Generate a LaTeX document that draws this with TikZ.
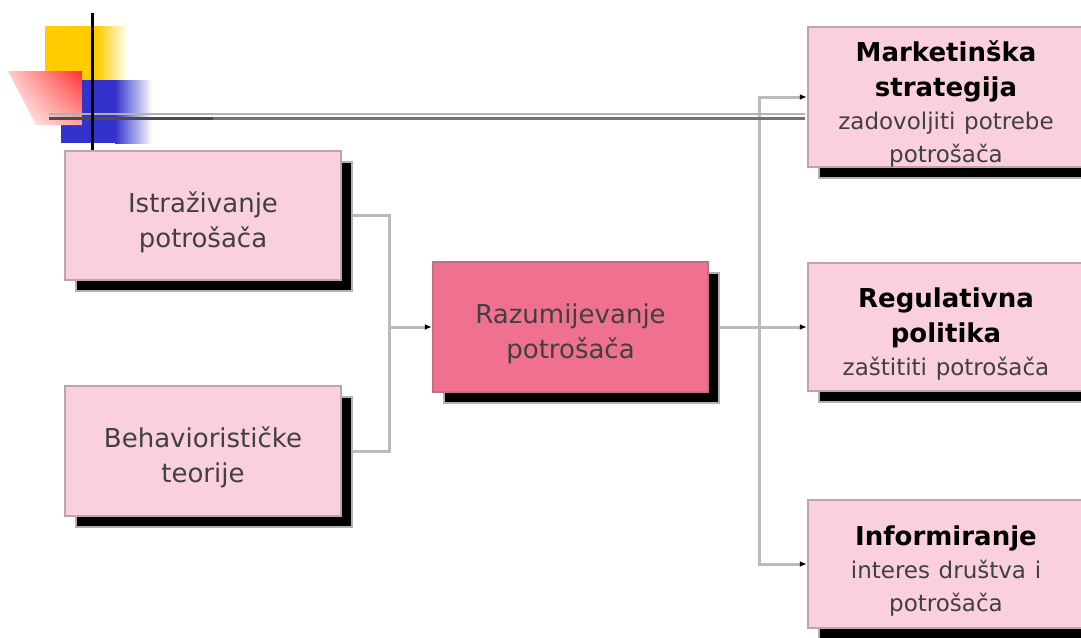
\documentclass[tikz,border=0pt]{standalone}
\usepackage{fontspec}
\setmainfont{DejaVu Sans}
\usetikzlibrary{arrows.meta,shadows,backgrounds,shadings}
\definecolor{lightpink}{HTML}{FAD0DC}
\definecolor{boxborder}{HTML}{C0A4AC}
\definecolor{centerfill}{HTML}{F07090}
\definecolor{centerborder}{HTML}{C07080}
\definecolor{conngray}{HTML}{BBBBBB}
\definecolor{textgray}{HTML}{404040}
\definecolor{yellowc}{HTML}{FFCC00}
\definecolor{bluec}{HTML}{3333CC}
\definecolor{redc}{HTML}{FF3030}
\begin{document}
\begin{tikzpicture}[x=1pt,y=-1pt,
  box/.style={draw=boxborder, line width=2.5pt, fill=lightpink, minimum width=276pt,
    inner sep=0pt, text width=266pt, align=center, text=textgray,
    font=\fontsize{26}{35}\selectfont,
    execute at begin node={\rule{0pt}{34pt}},
    drop shadow={shadow xshift=11pt, shadow yshift=-11pt, fill=black, draw=gray!60, line width=2pt, opacity=1}},
  centerbox/.style={box, fill=centerfill, draw=centerborder},
  conn/.style={draw=conngray, line width=3pt},
  arr/.style={-{Latex[color=black,length=7pt,width=6pt]}}
]
\useasboundingbox (0,0) rectangle (1081,637);
\clip (0,0) rectangle (1081,637);

% decoration
\fill[yellowc] (45,26) rectangle (97,80);
\shade[left color=yellowc, right color=white] (97,26) rectangle (128,80);
\fill[bluec] (61,80) rectangle (115,143);
\shade[left color=bluec, right color=white] (115,80) rectangle (152,143);
\begin{scope}
  \clip (8,71) -- (82,71) -- (82,125) -- (36,125) -- cycle;
  \shade[upper right=redc, upper left=redc!25, lower left=white, lower right=redc!45] (8,71) rectangle (82,125);
\end{scope}
\draw[line width=2pt, gray!60] (49,114) -- (805,114);
\draw[line width=3pt, black!70] (49,118) -- (213,118);
\draw[line width=3pt, black!55] (213,118) -- (805,118);
\draw[line width=3pt, black] (92,13) -- (92,150);

% nodes
\node[box, minimum height=129pt] (b1) at (203,215.5) {Istraživanje\\potrošača};
\node[box, minimum height=130pt] (b2) at (203,451) {Behaviorističke\\teorije};
\node[centerbox, minimum width=275pt, minimum height=130pt] (c) at (570.5,327) {Razumijevanje\\potrošača};

\node[box, minimum height=140pt] (r1) at (946,97)
  {{\fontsize{26}{35}\selectfont\bfseries\color{black} Marketinška\\strategija\par}%
   {\fontsize{23}{33}\selectfont zadovoljiti potrebe\\potrošača\par}};
\node[box, minimum height=128pt] (r2) at (946,327)
  {{\fontsize{26}{35}\selectfont\bfseries\color{black} Regulativna\\politika\par}%
   {\fontsize{23}{33}\selectfont zaštititi potrošača\par}};
\node[box, minimum height=128pt] (r3) at (946,564)
  {{\fontsize{26}{35}\selectfont\bfseries\color{black} Informiranje\par}%
   {\fontsize{23}{33}\selectfont interes društva i\\potrošača\par}};

\coordinate (j1) at (389,327);
\coordinate (j2) at (759,327);

\begin{scope}[on background layer]
  \draw[conn] (b1.east) -| (j1);
  \draw[conn] (b2.east) -| (j1);
  \draw[conn, arr] (j1) -- (c.west);
  \draw[conn] (c.east) -- (j2);
  \draw[conn, arr] (j2) |- (r1.west);
  \draw[conn, arr] (j2) -- (r2.west);
  \draw[conn, arr] (j2) |- (r3.west);
\end{scope}
\end{tikzpicture}
\end{document}
